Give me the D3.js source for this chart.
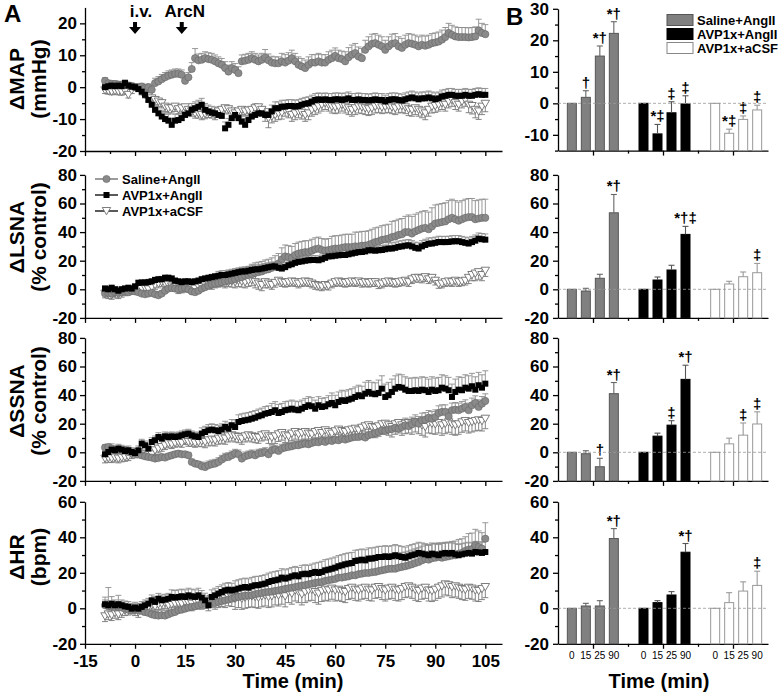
<!DOCTYPE html>
<html><head><meta charset="utf-8">
<script src="https://cdn.jsdelivr.net/npm/d3@7"></script>
<style>body{margin:0;background:#fff}svg{display:block}</style>
</head><body>
<script>
// ---------------- DATA ----------------
const minutes = d3.range(-9, 106); // sampling grid, one point per minute

// MAP (mmHg)
const mapSaline = [2.0,1.2,1.0,1.0,0.8,0.8,0.6,0.5,0.3,
 0,-0.2,0.2,-0.3,0,-0.8,1.3,1.8,2.5,3.1,
 3.6,3.9,4.2,4.2,3.9,2.0,3.1,5.7,9.1,8.4,
 8.6,9.1,8.8,8.6,8.1,7.5,7.0,6.0,4.9,6.0,
 5.4,4.4,8.1,8.3,8.6,9.1,8.6,8.1,8.6,9.3,
 8.4,7.7,7.5,7.5,8.1,7.7,8.3,9.1,8.1,7.0,
 6.5,6.0,7.0,7.7,7.7,8.1,7.7,7.7,8.6,9.1,
 9.8,9.1,8.8,8.1,9.4,10.2,10.7,9.6,9.1,11.7,
 12.8,13.6,13.8,13.3,12.8,11.7,12.8,13.6,13.8,12.8,
 12.3,13.3,13.8,13.6,13.3,12.8,13.3,13.0,13.3,13.8,
 14.0,14.3,14.9,15.7,17.0,16.4,15.9,15.7,15.7,15.7,
 15.6,15.7,15.9,17.8,17.0,16.6];
const mapSalineErr = [1,1,1,1,1,1,1,1,1,
 1,1,1,1,1,1.5,1.5,1.5,1.5,1.5,
 1.5,1.5,1.5,1.5,1.5,1.5,1.5,2,3,2,
 2,2,2,2,2,2,2,2,2,2,
 2,2,2,2,2,2,2,2,2,2.5,
 2,2,2,2,2.5,2.5,2.5,2.5,2.5,2.5,
 2.5,2.5,2.5,2.5,2.5,2.5,2.5,2.5,2.5,2.5,
 2.5,2.5,2.5,3,3,3,3,3,3,3,
 3,3,3,3,3,3,3,3,3,3,
 3,3,3,3,3,3,3,3,3,3,
 3,3,3,3,3,3,3,3,3,3,
 3,3,3,3.5,3,3];
const mapAvp = [0,0.3,0.5,0.3,0.5,0.3,1.3,0.5,0.2,
 0,-0.6,-1.4,-2.4,-4.0,-5.5,-7.1,-8.2,-9.2,-10.0,
 -10.5,-11.8,-10.5,-10.3,-9.7,-8.7,-8.2,-7.1,-6.6,-6.1,
 -5.5,-7.1,-7.6,-8.0,-8.2,-8.7,-9.0,-12.9,-11.8,-9.7,
 -8.7,-9.7,-10.8,-11.8,-10.3,-9.2,-8.7,-8.2,-8.2,-8.7,
 -8.7,-7.6,-6.6,-6.6,-6.1,-6.1,-5.9,-5.9,-6.1,-5.9,
 -5.5,-5.2,-5.0,-4.5,-4.0,-3.8,-4.0,-3.8,-4.0,-4.0,
 -3.8,-3.8,-4.0,-3.8,-3.5,-4.0,-4.0,-3.8,-4.0,-4.0,
 -4.2,-4.0,-3.8,-4.0,-4.0,-4.5,-4.0,-3.8,-3.8,-4.0,
 -4.2,-3.8,-3.5,-3.2,-3.5,-3.8,-3.5,-3.5,-3.2,-3.5,
 -3.8,-3.5,-2.9,-2.7,-2.4,-2.4,-2.7,-2.7,-2.7,-2.4,
 -2.7,-2.7,-2.4,-2.2,-2.4,-2.4];
const mapAvpErr = [1,1,1,1,1,1,1,1,1,
 1,1,1,1.5,1.5,1.5,1.5,2,2,2,
 2,2,2,2,2,2,2,2,2,2,
 2,2,2,2,2,2,2,2,2,2,
 2,2,2,2,2,2,3.5,2,2,2,
 2,2,2,2,2,2,2,2,2,2,
 2,2,2,2,2,2,2,2,2,2,
 2,2,2,2,2,2,2,2,2,2,
 2,2,2,2,2,2,2,2,2,2,
 2,2,2,2,2,2,2,2,2,2,
 2,2,2,2,2,2,2,2,2,2,
 2,2,2,2,2,2];
const mapCsf = [-1.0,-1.2,-1.4,-1.2,-1.4,-1.5,-1.2,-2.4,-1.0,
 0,-0.3,-1.4,-2.4,-2.9,-3.5,-4.0,-4.5,-5.0,-6.1,
 -6.6,-6.6,-6.1,-6.9,-6.6,-6.3,-7.1,-7.6,-8.2,-8.2,
 -8.7,-8.4,-8.0,-8.2,-8.7,-7.6,-7.1,-6.6,-6.9,-7.6,
 -8.2,-7.6,-7.1,-7.6,-7.3,-7.1,-6.6,-6.3,-7.1,-8.7,
 -9.7,-9.2,-8.7,-8.2,-8.0,-7.1,-7.6,-8.7,-8.2,-7.6,
 -8.0,-8.7,-8.2,-7.1,-6.6,-6.1,-5.5,-5.0,-5.5,-6.1,
 -6.3,-6.1,-5.5,-6.1,-6.6,-7.1,-6.6,-6.1,-6.3,-6.6,
 -6.9,-6.6,-6.1,-5.9,-6.3,-6.1,-5.9,-6.3,-6.6,-6.1,
 -5.9,-6.3,-6.9,-7.1,-6.6,-7.1,-7.6,-8.2,-7.1,-6.1,
 -5.9,-5.5,-5.0,-5.5,-4.5,-4.0,-5.0,-5.5,-4.5,-4.0,
 -5.5,-5.9,-7.1,-7.6,-6.1,-5.2];
const mapCsfErr = [1,1,1,1,1,1,1,1,1,
 1,1,1,1,1.5,1.5,1.5,1.5,1.5,1.5,
 1.5,1.5,1.5,1.5,1.5,1.5,1.5,1.5,1.5,1.5,
 1.5,1.5,1.5,1.5,1.5,1.5,1.5,1.5,1.5,1.5,
 1.5,1.5,1.5,1.5,1.5,1.5,1.5,1.5,2,2,
 3,2,2,2,2,2,2,2,2,2,
 2,2,2,2,2,2,2,2,2,2,
 2,2,2,2,2,2,2,2,2,2,
 2,2,2,2,2,2,2,2,2,2,
 2,2,2,2,2,2,2,2,2,2,
 2,2,2,2,2,2,2,2,2,2,
 2.5,2.5,2.5,2.5,2.5,2.5];

// LSNA (% control)
const lsnaSaline = [-3,-2.5,-3,-2,-2.5,-2,-1.5,-2,-1,
 -1.5,-2,-3,-3.5,-3,-2.5,-3.5,-4.2,-3,-1,
 0.5,1,0.5,0,0.5,1,0,-1.5,-2,-1,
 0.5,1.5,2.5,3.5,4,4.5,5,5.5,6,6.5,
 7,8,8.5,9.5,10,10.5,11.5,12,12.5,13.5,
 14,15,16.5,18,21,23,22.5,22,24,25,
 25.5,26,26,27,28,28.5,27.5,27,27.5,28,
 28.5,28.5,29,29.5,29.5,29.5,30,30,30.5,30.5,
 31,32,33,33.5,34.5,35,35.5,36.5,37,38,
 38.5,40,40,39,40.5,41.5,42.5,43,42,44,
 46,46.5,47,47.5,49,50,49,48,49,50,
 50.5,50.5,49,49.5,50,50];
const lsnaSalineErr = [2,2,2,2,2,2,2,2,2,
 2,2,2,2,2,2,2,2,2,2,
 2,2,2,2,2,2,2,2,2,2,
 3,3,3,4,4,4,5,5,5,5,
 6,6,6,6,6,7,7,7,7,7,
 7,7,7,7,8,8,8,8,8,8,
 8,8,8,8,8,8,8,8,8,9,
 9,9,9,9,9,9,10,10,10,10,
 10,10,10,10,10,10,10,11,11,11,
 11,11,12,12,12,12,12,12,12,13,
 13,13,13,13,13,13,13,13,13,13,
 13,13,13,13,13,13];
const lsnaAvp = [0.5,0,1,0,-1,0,0.5,1,0.5,
 2,4.5,4.7,4.7,5,5.5,6.5,7,7,8,
 8,7.5,6,5.5,5,5.5,5.5,5,5.5,6,
 7,7.5,8,8.5,9,9.5,10,10,10.5,11,
 11.5,12,12.5,12.5,13,13.5,14,14,14.5,15,
 15.5,16,16,15,14.5,15.5,16.8,17.5,18.5,19.2,
 19.5,20,20.3,20.5,20.5,20.3,21,22,23,23.1,
 23.5,23.8,24,24,24.5,25,25.5,26,26.1,26.5,
 27.3,27.3,27,27.3,27.5,28,28.5,28.5,29,29.7,
 30,30.5,30.8,30,29,28.5,30,31,31.9,32,
 32.5,33.1,33,33,33.1,33.5,33.6,33.6,33,32.5,
 32,33,34,35.4,35,34.7];
const lsnaAvpErr = [2,2,2,2,2,2,2,2,2,
 2,2,2,2,2,2,2,2,2,2,
 2,2,2,2,2,2,2,2,2,2,
 2,2,2,2,2,3,3,3,3,3,
 3,3,3,3,3,3,3,3,3,3,
 3,3,3,3,3,3,3,3,3,3,
 3,3,3,3,3,3,3,3,3,3,
 3,3,3,3,3,3,3,3,3,3,
 3,3,3,3,3,3,4,4,4,4,
 4,4,4,4,4,4,4,4,4,4,
 4,4,4,4,4,4,4,4,4,4,
 4,4,4,4,4,4];
const lsnaCsf = [-3,-3.5,-4,-3,-3.5,-2.5,-1.5,-1,-0.5,
 0,-0.5,0.5,1,0,1.5,3,4,5,4,
 3,2,1.5,0,0.5,1,2,1,0.5,2,
 2,3,4,3,4,4.5,5,4,5,5.5,
 5,6,5.5,5,6,6.5,5,4,3,5,
 4,3,4.5,6,5,4.5,5,5.5,5,4,
 5,5.5,5,4,3,2.5,2,3,2.5,4,
 5,5.5,5,4.5,5,5.5,5,5.5,4.5,5,
 4.5,5,5,3.5,4,5,5.5,5,4.5,5,
 5.5,6,5,7,8,8,7.5,8.5,7,8,
 6,3.7,4,5,5.5,5,6,5,5.5,6,
 8,10,11,12,10,13];
const lsnaCsfErr = [3,3,3,3,3,3,3,3,3,
 3,3,3,3,3,3,3,3,3,3,
 3,3,3,3,3,3,3,3,3,3,
 3,3,3,3,3,3,3,3,3,4,
 4,4,4,4,4,4,4,4,4,4,
 3,3,3,3,3,3,3,3,3,3,
 3,3,3,3,3,3,3,3,3,3,
 3,3,3,3,3,3,3,3,3,3,
 3,3,3,3,3,3,3,3,3,3,
 3,3,3,3,3,3,3,3,3,3,
 3,3,3,3,3,3,3,3,3,3,
 4,4,5,5,4,4];

// SSNA (% control)
const ssnaSaline = [3.3,3.7,2.6,1.4,1.9,0.9,1.4,0.2,-0.5,
 -0.9,-1.4,-2.1,-2.8,-3.3,-3.7,-4.4,-4.0,-3.3,-3.7,
 -2.8,-2.1,-1.4,-0.9,-1.4,-1.4,-2.1,-6.8,-7.9,-8.4,
 -9.8,-10.3,-9.1,-8.4,-7.9,-6.8,-5.1,-3.7,-3.3,-2.1,
 -0.9,-1.4,-4.4,-2.8,-2.1,-1.4,-2.1,-0.9,-0.5,0.2,
 -1.4,1.4,1.9,0.9,2.6,3.3,3.7,4.2,4.9,4.9,
 5.6,6.1,5.6,6.5,7.2,7.0,7.9,7.2,8.4,7.9,
 8.9,8.4,9.6,8.9,9.6,10.3,10.7,10.7,11.2,10.3,
 11.9,12.6,13.5,14.2,15.4,14.9,15.9,16.3,17.2,16.5,
 17.7,18.9,18.2,19.6,21.2,20.0,22.4,22.8,24.2,23.5,
 24.7,27.5,28.2,28.2,25.2,29.4,29.8,29.4,30.5,31.7,
 29.4,32.9,34.5,31.7,34.0,35.9];
const ssnaSalineErr = [2,2,2,2,2,2,2,2,2,
 2,2,2,2,2,2,2,2,2,2,
 2,2,2,2,2,2,2,2,2,2,
 3,3,3,3,3,3,3,3,3,3,
 3,3,3,3,3,3,3,3,3,3,
 3,3,3,3,3,3,3,3,3,3,
 3,3,3,3,3,3,3,3,3,3,
 4,4,4,4,4,4,4,4,4,4,
 4,4,4,4,4,4,4,4,4,4,
 5,5,5,5,5,5,5,5,5,5,
 5,5,5,5,5,5,5,5,5,5,
 5,5,5,5,5,5];
const ssnaAvp = [-1.4,0.2,1.9,1.4,2.6,1.9,0.9,1.4,0.2,
 -0.5,1.4,6.1,4.9,2.6,7.2,8.4,10.7,9.6,11.2,
 10.7,11.2,10.7,11.2,11.9,12.6,13.1,11.9,11.2,10.7,
 13.1,14.2,15.4,15.9,15.4,14.9,15.9,17.7,16.5,18.9,
 17.7,21.2,21.9,22.4,22.8,23.5,24.2,25.2,25.9,27.0,
 27.5,28.2,29.4,27.5,28.2,29.4,29.8,30.5,29.8,29.4,
 30.5,31.7,32.9,32.2,30.5,32.9,31.7,32.2,33.6,34.5,
 32.9,35.2,36.4,35.9,36.8,37.5,38.7,39.9,39.2,41.0,
 42.2,41.0,40.6,41.5,44.5,38.7,39.9,42.2,44.5,45.7,
 45.2,43.8,42.9,42.9,43.4,42.9,43.8,43.4,42.2,43.8,
 42.9,43.4,45.2,44.5,43.4,38.7,42.2,43.8,43.4,45.2,
 44.5,46.2,43.8,46.9,45.2,48.0];
const ssnaAvpErr = [3,3,4,3,3,3,3,3,3,
 3,3,3,3,3,3,3,3,3,3,
 3,3,3,3,3,3,3,3,3,3,
 4,4,4,4,4,4,4,4,4,4,
 5,5,5,5,5,5,5,5,5,5,
 5,6,6,6,6,6,6,6,6,6,
 6,6,6,6,6,6,6,6,6,7,
 7,7,7,7,7,7,7,7,7,8,
 8,8,8,9,9,9,9,9,9,9,
 9,9,9,9,9,9,9,9,9,9,
 9,9,9,9,9,9,9,9,9,9,
 9,9,9,9,9,9];
const ssnaCsf = [-4.4,-4.0,-4.2,-3.7,-4.4,-3.7,-3.3,-2.8,-1.4,
 -0.9,0.2,-0.9,-1.4,-2.1,-1.4,1.4,2.6,3.7,4.9,
 6.1,5.6,6.5,7.2,6.5,8.4,7.2,7.2,6.5,7.2,
 7.9,7.2,8.4,8.9,8.4,9.6,10.3,9.6,11.2,11.9,
 11.2,10.7,9.6,11.2,11.9,11.2,10.7,10.3,11.9,12.6,
 11.2,10.3,11.2,12.6,13.5,11.9,11.2,13.1,14.2,12.6,
 13.5,14.2,13.1,12.6,14.2,14.9,13.5,15.4,14.2,13.1,
 14.7,15.9,14.9,14.2,15.4,15.9,16.5,15.4,17.2,18.2,
 18.9,17.7,17.2,18.2,19.6,20.0,18.9,17.7,19.6,20.5,
 18.9,20.0,20.5,19.6,21.2,20.0,18.9,17.7,20.5,20.0,
 19.6,20.5,18.9,20.0,21.0,19.6,18.9,19.6,21.0,21.9,
 20.5,21.2,21.9,22.4,21.9,23.5];
const ssnaCsfErr = [3,3,3,3,3,3,3,3,3,
 3,3,3,3,3,3,3,3,3,3,
 3,3,3,3,3,3,3,3,3,3,
 4,4,4,4,4,4,4,4,4,4,
 4,4,4,4,4,4,4,4,4,4,
 5,5,5,5,5,5,5,5,5,5,
 5,5,5,5,5,5,5,5,5,5,
 6,6,6,6,6,6,6,6,6,6,
 7,7,7,7,7,7,7,7,7,7,
 7,7,7,7,7,7,7,7,7,7,
 7,7,7,7,7,7,7,7,7,7,
 7,7,7,7,7,7];

// HR (bpm)
const hrSaline = [1.7,1.1,0.8,0.4,0.8,0.4,-0.2,-0.8,-1.1,
 -0.8,-1.1,-1.5,-2.1,-2.6,-3.4,-3.9,-4.1,-3.9,-4.1,
 -3.4,-2.6,-2.1,-1.1,-0.8,-0.2,0.4,0.8,1.1,1.7,
 2.3,2.6,2.6,3.0,3.0,3.6,4.1,4.5,4.9,5.4,
 6.0,6.4,6.8,7.1,7.3,7.3,7.9,8.3,8.6,9.0,
 9.2,9.4,9.8,10.1,10.5,10.9,11.3,11.6,12.0,12.4,
 12.8,13.0,13.5,13.9,14.3,14.6,14.8,15.4,15.8,16.2,
 16.5,17.3,17.3,17.7,18.0,18.6,18.6,19.2,19.5,19.9,
 19.9,20.3,20.5,21.0,21.4,21.8,22.2,22.3,22.3,22.9,
 23.3,23.7,24.2,24.8,25.5,26.1,27.0,27.8,27.4,28.2,
 28.5,28.9,28.5,28.9,29.3,29.7,29.9,30.8,31.2,32.3,
 33.1,33.4,35.5,34.6,33.6,39.2];
const hrSalineErr = [3,3,3,3,3,3,3,3,3,
 3,3,3,3,3,3,3,3,3,3,
 3,3,3,3,3,3,3,3,3,3,
 4,4,4,4,4,4,4,4,4,4,
 5,5,5,5,5,5,5,5,5,5,
 6,6,6,6,6,6,6,6,6,6,
 6,6,6,6,6,7,7,7,7,7,
 7,7,7,7,7,7,7,7,7,7,
 8,8,8,8,8,8,8,8,8,8,
 8,8,8,8,8,8,8,8,8,8,
 8,8,8,8,8,8,8,8,8,8,
 9,9,9,9,9,9];
const hrAvp = [2.3,1.7,2.6,1.7,2.3,1.7,1.1,0.8,-0.2,
 0.4,-0.2,0.8,1.7,2.6,4.5,3.6,5.4,4.5,4.9,
 5.4,6.4,6.0,6.4,6.8,6.4,7.3,6.8,6.4,7.3,
 6.0,4.5,1.7,6.4,7.3,8.3,9.2,10.1,10.5,10.1,
 10.5,11.1,11.6,12.0,11.6,12.4,13.0,13.0,13.5,13.9,
 14.8,15.4,15.8,16.2,17.3,16.7,17.3,18.0,18.6,18.0,
 19.2,19.5,19.2,19.9,20.5,19.9,20.5,21.4,21.8,22.3,
 22.9,23.7,24.2,24.8,25.2,25.5,26.7,27.0,27.4,27.0,
 28.0,28.0,28.4,28.9,28.9,29.3,28.9,29.3,29.9,29.3,
 28.9,28.5,29.3,29.9,30.4,31.2,30.8,30.4,29.9,30.8,
 30.4,29.9,30.8,31.2,30.8,31.2,30.4,29.9,30.4,30.8,
 31.2,30.8,31.7,31.5,31.2,31.7];
const hrAvpErr = [4,10,4,3,5,3,3,3,3,
 3,3,3,3,3,3,3,3,3,3,
 3,4,4,4,4,4,4,4,4,4,
 4,4,4,4,4,4,4,4,4,4,
 5,5,5,5,5,5,5,5,5,5,
 5,5,5,5,5,5,5,5,5,5,
 5,5,5,5,5,6,6,6,6,6,
 6,6,6,6,6,6,6,6,6,6,
 6,6,6,6,6,6,6,6,6,6,
 6,6,6,6,6,6,6,6,6,6,
 6,6,6,6,6,6,6,6,6,6,
 6,6,6,6,6,6];
const hrCsf = [-4.5,-3.4,-3.9,-2.6,-3.4,-2.1,-1.1,-0.8,-0.2,
 -1.1,-2.1,0.4,-0.8,0.8,1.7,1.1,2.3,2.6,3.0,
 1.7,2.3,2.6,3.0,2.6,3.6,3.0,2.6,4.1,3.6,
 4.5,4.9,3.6,5.4,4.5,5.4,6.0,5.4,6.4,6.0,
 5.4,6.4,5.4,6.0,6.4,6.8,6.4,6.0,6.8,7.3,
 6.4,6.8,7.9,7.3,8.3,6.8,9.2,8.3,10.1,9.2,
 7.9,9.2,10.1,10.5,9.2,8.3,9.8,10.5,10.1,11.1,
 10.1,10.5,9.8,9.2,10.9,11.6,10.5,10.1,11.1,11.6,
 10.5,10.1,11.6,12.0,10.9,10.1,11.1,11.6,10.5,10.1,
 10.9,12.0,12.4,11.6,10.5,9.8,11.1,11.6,10.1,9.8,
 10.5,11.6,12.4,13.5,13.0,12.0,12.4,11.6,10.9,10.5,
 11.6,11.1,10.1,9.8,10.9,12.0];
const hrCsfErr = [3,3,3,3,3,3,3,3,3,
 3,3,3,3,3,3,3,3,3,3,
 3,4,4,4,4,4,4,4,4,4,
 5,5,5,5,5,5,5,5,5,5,
 6,6,6,6,6,6,6,6,6,6,
 6,6,6,6,6,6,6,6,6,6,
 6,6,6,6,6,6,6,6,6,6,
 6,6,6,6,6,6,6,6,6,6,
 6,6,6,6,6,6,6,6,6,6,
 6,6,6,6,6,6,6,6,6,6,
 6,6,6,6,6,6,6,6,6,6,
 6,6,6,6,6,6];

// Panel B: mean changes at 0, 15, 25, 90 min
const groups = ["Saline+AngII","AVP1x+AngII","AVP1x+aCSF"];
const barTimes = ["0","15","25","90"];
const barMAP = [[0,1.9,15.0,22.2],[0,-9.7,-3.0,-0.2],[0,-9.5,-5.1,-2.1]];
const barMAPErr = [[0,2.1,3.2,3.7],[0,3.0,3.5,2.6],[0,1.3,1.1,1.5]];
const barMAPSig = [["","†","*†","*†"],["","*‡","‡","‡"],["","*‡","‡","‡"]];
const barLSNA = [[0,-1.2,7.7,53.5],[0,6.5,13.5,38.4],[0,3.7,8.8,11.6]];
const barLSNAErr = [[0,1.9,2.8,12.8],[0,2.1,3.3,5.6],[0,1.9,3.3,6.5]];
const barLSNASig = [["","","","*†"],["","","","*†‡"],["","","","‡"]];
const barSSNA = [[0,-1.0,-10.1,41.0],[0,11.3,19.0,51.0],[0,5.9,12.0,19.8]];
const barSSNAErr = [[0,2.1,5.9,7.8],[0,2.1,3.1,9.9],[0,4.0,8.5,8.5]];
const barSSNASig = [["","","†","*†"],["","","‡","*†"],["","","‡","‡"]];
const barHR = [[0,1.3,1.3,39.3],[0,3.2,7.5,31.6],[0,3.2,9.7,12.9]];
const barHRErr = [[0,1.5,3.0,5.6],[0,1.1,1.9,4.9],[0,5.6,5.2,8.0]];
const barHRSig = [["","","","*†"],["","","","*†"],["","","","‡"]];

const xTicksA = [-15,0,15,30,45,60,75,90,105];
const injections = [{label:"i.v.", t:0},{label:"ArcN", t:14}];

// ---------------- DRAWING ----------------
const F = '"Liberation Sans", Arial, Helvetica, sans-serif';
const svg = d3.select('body').append('svg').attr('width',780).attr('height',698);
const str = d => String(d);

const rows = [
 {dom:[-20,25], rngA:[151,7.4], domB:[-15,30], rngB:[150.6,8.8],
  majA:[-20,-10,0,10,20], minA:[-15,-5,5,15], majB:[-10,0,10,20,30], minB:[-15,-5,5,15,25],
  title:["ΔMAP","(mmHg)"], tc:79,
  ser:[[mapCsf,mapCsfErr],[mapSaline,mapSalineErr],[mapAvp,mapAvpErr]],
  bars:barMAP, barErr:barMAPErr, sig:barMAPSig},
 {dom:[-20,80], rngA:[317.9,174.9], domB:[-20,80], rngB:[317.9,174.9],
  majA:[-20,0,20,40,60,80], minA:[-10,10,30,50,70], majB:[-20,0,20,40,60,80], minB:[-10,10,30,50,70],
  title:["ΔLSNA","(% control)"], tc:237,
  ser:[[lsnaCsf,lsnaCsfErr],[lsnaSaline,lsnaSalineErr],[lsnaAvp,lsnaAvpErr]],
  bars:barLSNA, barErr:barLSNAErr, sig:barLSNASig},
 {dom:[-20,80], rngA:[480.9,337.9], domB:[-20,80], rngB:[480.9,337.9],
  majA:[-20,0,20,40,60,80], minA:[-10,10,30,50,70], majB:[-20,0,20,40,60,80], minB:[-10,10,30,50,70],
  title:["ΔSSNA","(% control)"], tc:401,
  ser:[[ssnaCsf,ssnaCsfErr],[ssnaSaline,ssnaSalineErr],[ssnaAvp,ssnaAvpErr]],
  bars:barSSNA, barErr:barSSNAErr, sig:barSSNASig},
 {dom:[-20,60], rngA:[643.8,501.8], domB:[-20,60], rngB:[643.8,501.8],
  majA:[-20,0,20,40,60], minA:[-10,10,30,50], majB:[-20,0,20,40,60], minB:[-10,10,30,50],
  title:["ΔHR","(bpm)"], tc:557,
  ser:[[hrCsf,hrCsfErr],[hrSaline,hrSalineErr],[hrAvp,hrAvpErr]],
  bars:barHR, barErr:barHRErr, sig:barHRSig}
];
// series order in ser: 0 = aCSF (triangles, error down), 1 = saline (circles, up), 2 = AVP+AngII (squares, up)
const errDir = [-1, 1, 1];
const errCol = ['#777','#8c8c8c','#8c8c8c'];

const xA = d3.scaleLinear().domain([-15,110]).range([85,502]);
const xB = d3.scaleLinear().domain([0,6]).range([558,768]);
const gB = d3.scaleBand().domain(groups).range([557,772]);
const tB = d3.scaleBand().domain(barTimes).range([-28,28]);

function styleAxis(g, fs){
  g.selectAll('path.domain').attr('stroke','#000').attr('stroke-width',1.3);
  g.selectAll('.tick line').attr('stroke','#000').attr('stroke-width',1.3);
  g.selectAll('.tick text').attr('font-family',F).attr('font-weight','bold')
    .attr('font-size',fs).attr('fill','#000');
}

const triPath = 'M-4.2,-3.5L4.2,-3.5L0,3.8Z';
function marker(sel, kind){
  if(kind===0) sel.append('path').attr('d',triPath).attr('fill','#fff').attr('stroke','#6e6e6e').attr('stroke-width',0.9);
  else if(kind===1) sel.append('circle').attr('r',3.6).attr('fill','#8a8a8a').attr('stroke','#666').attr('stroke-width',0.6);
  else sel.append('rect').attr('x',-3).attr('y',-3).attr('width',6).attr('height',6).attr('fill','#000');
}

let badLen = [];
rows.forEach((row, ri) => {
  const y = d3.scaleLinear().domain(row.dom).range(row.rngA);
  const bottom = ri === rows.length - 1;
  const gx = svg.append('g').attr('transform',`translate(0,${row.rngA[0]})`)
    .call(d3.axisBottom(xA).tickValues(xTicksA).tickSize(5).tickSizeOuter(0).tickPadding(6)
      .tickFormat(bottom ? str : () => ''));
  styleAxis(gx, 17);
  const gxm = svg.append('g').attr('transform',`translate(0,${row.rngA[0]})`)
    .call(d3.axisBottom(xA).tickValues(xTicksA.slice(0,-1).map(v => v + 7.5)).tickSize(3).tickFormat(() => ''));
  gxm.select('path.domain').remove(); styleAxis(gxm, 17);
  const gy = svg.append('g').attr('transform','translate(85,0)')
    .call(d3.axisLeft(y).tickValues(row.majA).tickSize(5).tickSizeOuter(0).tickPadding(3).tickFormat(str));
  styleAxis(gy, 17);
  const gym = svg.append('g').attr('transform','translate(85,0)')
    .call(d3.axisLeft(y).tickValues(row.minA).tickSize(3).tickFormat(() => ''));
  gym.select('path.domain').remove(); styleAxis(gym, 17);

  row.title.forEach((t, k) => {
    svg.append('text').attr('transform',`translate(${k===0?24:46},${row.tc}) rotate(-90)`)
      .attr('text-anchor','middle').attr('font-family',F).attr('font-weight','bold')
      .attr('font-size',21).text(t);
  });

  const layer = svg.append('g');
  row.ser.forEach(([vals, errs], si) => {
    if (vals.length !== minutes.length || errs.length !== minutes.length) badLen.push(`r${ri}s${si}:${vals.length}/${errs.length}`);
    const n = Math.min(vals.length, errs.length, minutes.length);
    const d = d3.range(n).map(i => ({t: minutes[i], v: vals[i], e: errs[i]}));
    const eg = layer.append('g').attr('stroke',errCol[si]).attr('stroke-width',0.9);
    d.forEach(p => {
      const x = xA(p.t), y0 = y(p.v), y1 = y(p.v + errDir[si]*p.e);
      eg.append('line').attr('x1',x).attr('x2',x).attr('y1',y0).attr('y2',y1);
      eg.append('line').attr('x1',x-3).attr('x2',x+3).attr('y1',y1).attr('y2',y1);
    });
  });
  row.ser.forEach(([vals], si) => {
    const n = Math.min(vals.length, minutes.length);
    const mg = layer.append('g');
    d3.range(n).forEach(i => {
      const s = mg.append('g').attr('transform',`translate(${xA(minutes[i])},${y(vals[i])})`);
      marker(s, si);
    });
  });

  // ----- Panel B -----
  const yb = d3.scaleLinear().domain(row.domB).range(row.rngB);
  const gbx = svg.append('g').attr('transform',`translate(0,${row.rngB[0]})`)
    .call(d3.axisBottom(xB).tickValues([1,3,5]).tickSize(5).tickSizeOuter(0).tickFormat(() => ''));
  styleAxis(gbx, 11);
  const gbxm = svg.append('g').attr('transform',`translate(0,${row.rngB[0]})`)
    .call(d3.axisBottom(xB).tickValues([2,4]).tickSize(3).tickFormat(() => ''));
  gbxm.select('path.domain').remove(); styleAxis(gbxm, 11);
  const gby = svg.append('g').attr('transform','translate(558,0)')
    .call(d3.axisLeft(yb).tickValues(row.majB).tickSize(5).tickSizeOuter(0).tickPadding(4).tickFormat(str));
  styleAxis(gby, 17);
  const gbym = svg.append('g').attr('transform','translate(558,0)')
    .call(d3.axisLeft(yb).tickValues(row.minB).tickSize(3).tickFormat(() => ''));
  gbym.select('path.domain').remove(); styleAxis(gbym, 17);

  const fills = ['#808080','#000','#fff'];
  const strokes = ['#555','#000','#999'];
  const ecol = ['#666','#555','#999'];
  const base = row.domB[0];
  groups.forEach((gname, gi) => {
    barTimes.forEach((bt, bi) => {
      const v = row.bars[gi][bi], e = row.barErr[gi][bi];
      const cx = gB(gname) + gB.bandwidth()/2 + tB(bt) + tB.bandwidth()/2;
      svg.append('rect').attr('x',cx-4.5).attr('width',9)
        .attr('y',yb(v)).attr('height',yb(base)-yb(v))
        .attr('fill',fills[gi]).attr('stroke',strokes[gi]).attr('stroke-width',1);
      if (e > 0) {
        const y1 = yb(v+e);
        svg.append('line').attr('x1',cx).attr('x2',cx).attr('y1',yb(v)).attr('y2',y1).attr('stroke',ecol[gi]).attr('stroke-width',1.1);
        svg.append('line').attr('x1',cx-3).attr('x2',cx+3).attr('y1',y1).attr('y2',y1).attr('stroke',ecol[gi]).attr('stroke-width',1.1);
      }
      const sg = row.sig[gi][bi];
      if (sg) {
        svg.append('text').attr('x',cx).attr('y',yb(v+e)-3).attr('text-anchor','middle').attr('fill','#000')
          .attr('font-family',F).attr('font-weight','bold').attr('font-size',15).text(sg);
      }
      if (bottom) {
        svg.append('text').attr('x',cx).attr('y',659).attr('text-anchor','middle')
          .attr('font-family',F).attr('font-size',10).text(bt);
      }
    });
  });
  svg.append('line').attr('x1',558).attr('x2',768).attr('y1',yb(0)).attr('y2',yb(0))
    .attr('stroke','#999').attr('stroke-width',0.8).attr('stroke-dasharray','3,2');
});

// legend A
const legA = svg.append('g');
groups.forEach((gname, i) => {
  const kind = [1,2,0][i];
  const yy = 179 + i*16;
  legA.append('line').attr('x1',95).attr('x2',118).attr('y1',yy).attr('y2',yy)
    .attr('stroke', kind===1 ? '#666' : '#000').attr('stroke-width',1.3);
  marker(legA.append('g').attr('transform',`translate(106.5,${yy})`), kind);
  legA.append('text').attr('x',122).attr('y',yy+4.5).attr('font-family',F)
    .attr('font-weight','bold').attr('font-size',13).text(gname);
});
// legend B
const fillsL = ['#808080','#000','#fff'], strokesL = ['#555','#000','#888'];
groups.forEach((gname, i) => {
  const yy = 20 + i*14;
  svg.append('rect').attr('x',667).attr('y',yy-5.5).attr('width',26).attr('height',11)
    .attr('fill',fillsL[i]).attr('stroke',strokesL[i]).attr('stroke-width',1);
  svg.append('text').attr('x',697).attr('y',yy+4.5).attr('font-family',F)
    .attr('font-weight','bold').attr('font-size',13).text(gname);
});

// injection arrows
injections.forEach((m, i) => {
  const cx = xA(m.t);
  svg.append('path').attr('d',`M${cx-2},22L${cx+2},22L${cx+2},27L${cx+6},27L${cx},34L${cx-6},27L${cx-2},27Z`).attr('fill','#000');
  svg.append('text').attr('x',cx + (i===0?6:3)).attr('y',17).attr('text-anchor','middle')
    .attr('font-family',F).attr('font-weight','bold').attr('font-size',17).text(m.label);
});

svg.append('text').attr('x',4).attr('y',22).attr('font-family',F).attr('font-weight','bold').attr('font-size',24).text('A');
svg.append('text').attr('x',506).attr('y',25).attr('font-family',F).attr('font-weight','bold').attr('font-size',24).text('B');
svg.append('text').attr('x',293).attr('y',688).attr('text-anchor','middle').attr('font-family',F).attr('font-weight','bold').attr('font-size',20).text('Time (min)');
svg.append('text').attr('x',659).attr('y',688).attr('text-anchor','middle').attr('font-family',F).attr('font-weight','bold').attr('font-size',20).text('Time (min)');

if (badLen.length) svg.append('text').attr('x',300).attr('y',690).attr('fill','red').attr('font-size',10).text(badLen.join(' '));
</script>
</body></html>
